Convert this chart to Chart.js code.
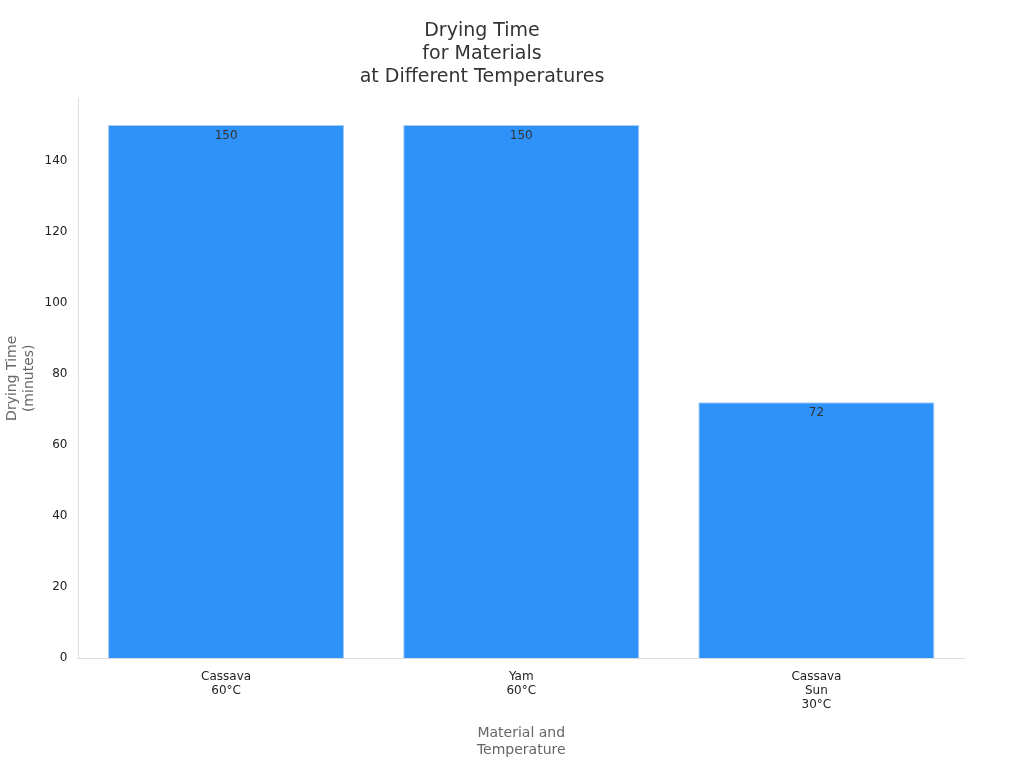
<!DOCTYPE html>
<html><head><meta charset="utf-8">
<script src="https://cdn.jsdelivr.net/npm/chart.js@4"></script>
<style>html,body{margin:0;padding:0;background:#fff}#w{width:1024px;height:768px}</style>
</head><body><div id="w"><canvas id="c"></canvas></div>
<script>
const categories = [["Cassava","60°C"],["Yam","60°C"],["Cassava","Sun","30°C"]];
const dryingTime = [150,150,72];
const yTicks = [0,20,40,60,80,100,120,140];
Chart.defaults.font.family = "DejaVu Sans";
const labelPlugin = {
  id:'vals',
  afterDatasetsDraw(chart){
    const ctx = chart.ctx;
    chart.getDatasetMeta(0).data.forEach((bar,i)=>{
      ctx.save();
      ctx.fillStyle='#333';ctx.font='12px DejaVu Sans';
      ctx.textAlign='center';ctx.textBaseline='top';
      ctx.fillText(String(dryingTime[i]), bar.x, bar.y+5);
      ctx.restore();
    });
  }
};
new Chart(document.getElementById('c'),{
  type:'bar',
  data:{labels:categories,datasets:[{data:dryingTime,backgroundColor:'#2e92f8',borderColor:'#a9cdf5',borderWidth:1,barPercentage:0.8,categoryPercentage:1}]},
  options:{
    responsive:true,maintainAspectRatio:false,animation:false,
    layout:{padding:{left:0,right:60,top:10,bottom:5}},
    plugins:{legend:{display:false},tooltip:{enabled:false},
      title:{display:true,text:['Drying Time','for Materials','at Different Temperatures'],color:'#333',font:{size:19,weight:'normal',lineHeight:1.2},padding:{top:10,bottom:10}}},
    scales:{
      x:{grid:{display:false,drawTicks:true},border:{color:'#ddd'},ticks:{color:'#222',font:{size:12}},
        title:{display:true,text:['Material and','Temperature'],color:'#666',font:{size:14},padding:{top:10}}},
      y:{min:0,max:157.5,grid:{display:false},border:{color:'#ddd'},
        afterBuildTicks(s){s.ticks=yTicks.map(v=>({value:v}));},
        ticks:{color:'#222',font:{size:12}},
        title:{display:true,text:['Drying Time','(minutes)'],color:'#666',font:{size:14}}}
    }
  },
  plugins:[labelPlugin]
});
</script></body></html>
